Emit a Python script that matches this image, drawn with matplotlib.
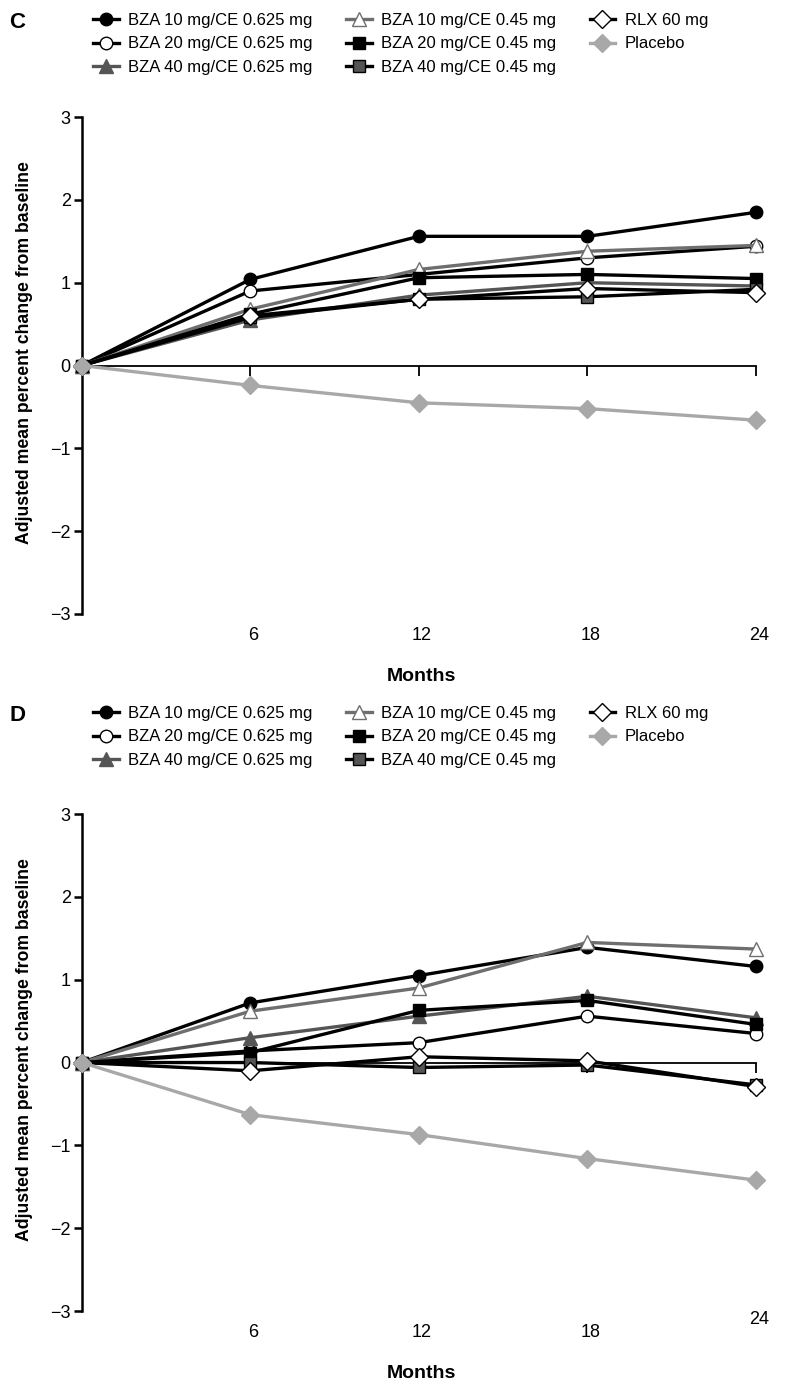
import matplotlib.pyplot as plt
from matplotlib import transforms

plt.rcParams['font.family'] = ['Liberation Sans', 'DejaVu Sans']

# Дані (місяці та скоригована середня зміна, %)
months = [0, 6, 12, 18, 24]
series_names = ['BZA 10 mg/CE 0.625 mg', 'BZA 20 mg/CE 0.625 mg', 'BZA 40 mg/CE 0.625 mg',
                'BZA 10 mg/CE 0.45 mg', 'BZA 20 mg/CE 0.45 mg', 'BZA 40 mg/CE 0.45 mg',
                'RLX 60 mg', 'Placebo']

panel_c = [
    [0, 1.04, 1.56, 1.56, 1.85],
    [0, 0.90, 1.10, 1.30, 1.44],
    [0, 0.55, 0.85, 1.00, 0.96],
    [0, 0.68, 1.16, 1.38, 1.45],
    [0, 0.62, 1.06, 1.10, 1.05],
    [0, 0.58, 0.80, 0.83, 0.92],
    [0, 0.60, 0.80, 0.93, 0.88],
    [0, -0.24, -0.45, -0.52, -0.66],
]
panel_d = [
    [0, 0.72, 1.05, 1.39, 1.16],
    [0, 0.14, 0.24, 0.56, 0.35],
    [0, 0.30, 0.56, 0.80, 0.54],
    [0, 0.62, 0.90, 1.45, 1.37],
    [0, 0.12, 0.63, 0.75, 0.46],
    [0, 0.00, -0.06, -0.03, -0.27],
    [0, -0.10, 0.07, 0.02, -0.29],
    [0, -0.63, -0.87, -1.16, -1.42],
]

# Стилі: колір лінії, маркер, заливка, край
styles = [
    ('black', 'o', 'black', 'black'),
    ('black', 'o', 'white', 'black'),
    ('#555555', '^', '#555555', '#555555'),
    ('#6e6e6e', '^', 'white', '#6e6e6e'),
    ('black', 's', 'black', 'black'),
    ('black', 's', '#555555', 'black'),
    ('black', 'D', 'white', 'black'),
    ('#a8a8a8', 'D', '#a8a8a8', '#a8a8a8'),
]
sizes = [9, 9, 10, 10, 8.5, 8.5, 9.5, 9.5]

fig = plt.figure(figsize=(7.86, 13.92), dpi=100)


def draw_panel(bottom, data, letter, legend_top, label24_dy):
    ax = fig.add_axes([0.104, bottom, 0.872, 0.357])
    handles = []
    for vals, name, (lc, mk, fc, ec), ms in zip(data, series_names, styles, sizes):
        h, = ax.plot(months, vals, color=lc, lw=2.4, marker=mk, ms=ms,
                     markerfacecolor=fc, markeredgecolor=ec, markeredgewidth=1.0,
                     label=name, clip_on=False, zorder=3)
        handles.append(h)
    ax.set_xlim(0, 24.4)
    ax.set_ylim(-3, 3)
    ax.spines['top'].set_visible(False)
    ax.spines['right'].set_visible(False)
    ax.spines['bottom'].set_position(('data', 0))
    ax.spines['bottom'].set_bounds(0, 24)
    ax.spines['left'].set_linewidth(1.8)
    ax.spines['bottom'].set_linewidth(1.3)
    ax.set_xticks([6, 12, 18, 24])
    ax.tick_params(axis='x', direction='out', length=7, width=1.3, labelbottom=False)
    ax.set_yticks([-3, -2, -1, 0, 1, 2, 3])
    ax.set_yticklabels(['\u22123', '\u22122', '\u22121', '0', '1', '2', '3'])
    ax.tick_params(axis='y', direction='out', length=6, width=1.8, labelsize=13, pad=2)
    # підписи місяців під віссю
    trans = transforms.blended_transform_factory(ax.transData, ax.transAxes)
    for m in [6, 12, 18, 24]:
        dy = label24_dy if m == 24 else 0
        ax.text(m + 0.1, -0.043 + dy, str(m), transform=trans, ha='center', va='center', fontsize=13)
    ax.text(12.1, -0.125, 'Months', transform=trans, ha='center', va='center',
            fontsize=14, fontweight='bold')
    ax.set_ylabel('Adjusted mean percent change from baseline', fontsize=12.7, fontweight='bold')
    ax.yaxis.set_label_coords(-0.071, 0.526)
    fig.text(0.012, legend_top - 0.002, letter, fontsize=16, fontweight='bold', va='center')
    fig.legend(handles=handles, loc='upper left', bbox_to_anchor=(0.108, legend_top + 0.011),
               ncol=3, frameon=False, fontsize=12, handlelength=1.55, handletextpad=0.55,
               columnspacing=2.0, labelspacing=0.5, borderpad=0)
    return ax


draw_panel(1 - 614 / 1392, panel_c, 'C', 1 - 20 / 1392, 0)
draw_panel(1 - 1311 / 1392, panel_d, 'D', 1 - 713 / 1392, 0.026)

plt.savefig('out.png', dpi=100)
